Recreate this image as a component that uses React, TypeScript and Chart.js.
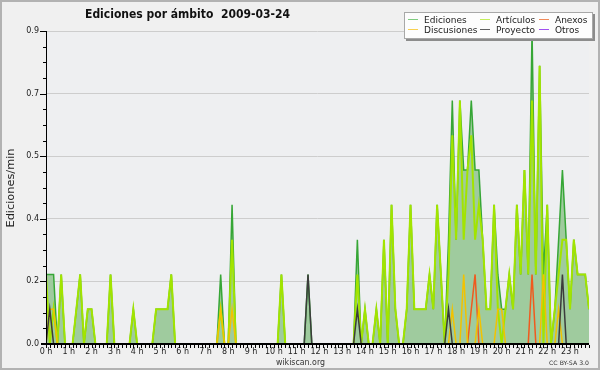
import React, { useEffect, useRef } from 'react';
import { Chart, registerables } from 'chart.js';

Chart.register(...registerables);

// ---------- data ----------
const TITLE = 'Ediciones por ámbito  2009-03-24';
const Y_TITLE = 'Ediciones/min';
const SITE = 'wikiscan.org';
const LICENSE = 'CC BY-SA 3.0';

const HOUR_LABELS = [
  '0 h', '1 h', '2 h', '3 h', '4 h', '5 h', '6 h', '7 h', '8 h', '9 h', '10 h', '11 h',
  '12 h', '13 h', '14 h', '15 h', '16 h', '17 h', '18 h', '19 h', '20 h', '21 h', '22 h', '23 h',
];

// one value per 10-minute bin (edits per minute)
const EDICIONES = [
  0.2, 0.2, 0.2, 0, 0.2, 0, 0, 0, 0.1, 0.2, 0, 0.1,
  0.1, 0, 0, 0, 0, 0.2, 0, 0, 0, 0, 0, 0.1,
  0, 0, 0, 0, 0, 0.1, 0.1, 0.1, 0.1, 0.2, 0, 0,
  0, 0, 0, 0, 0, 0, 0, 0, 0, 0, 0.2, 0,
  0, 0.4, 0, 0, 0, 0, 0, 0, 0, 0, 0, 0,
  0, 0, 0.2, 0, 0, 0, 0, 0, 0, 0.2, 0, 0,
  0, 0, 0, 0, 0, 0, 0, 0, 0, 0, 0.3, 0,
  0.1, 0, 0, 0.1, 0, 0.3, 0, 0.4, 0.1, 0, 0, 0.1,
  0.4, 0.1, 0.1, 0.1, 0.1, 0.2, 0.1, 0.4, 0.2, 0, 0.3, 0.7,
  0.3, 0.7, 0.5, 0.5, 0.7, 0.5, 0.5, 0.3, 0.1, 0.1, 0.4, 0.2,
  0.1, 0.1, 0.2, 0.1, 0.4, 0.2, 0.5, 0.2, 0.9, 0.2, 0.8, 0.2,
  0.4, 0, 0.1, 0.3, 0.5, 0.3, 0.1, 0.3, 0.2, 0.2, 0.2, 0.1,
];

const ARTICULOS = [
  0.2, 0, 0.1, 0, 0.2, 0, 0, 0, 0.1, 0.2, 0, 0.1,
  0.1, 0, 0, 0, 0, 0.2, 0, 0, 0, 0, 0, 0.1,
  0, 0, 0, 0, 0, 0.1, 0.1, 0.1, 0.1, 0.2, 0, 0,
  0, 0, 0, 0, 0, 0, 0, 0, 0, 0, 0.1, 0,
  0, 0.3, 0, 0, 0, 0, 0, 0, 0, 0, 0, 0,
  0, 0, 0.2, 0, 0, 0, 0, 0, 0, 0, 0, 0,
  0, 0, 0, 0, 0, 0, 0, 0, 0, 0, 0.2, 0,
  0.1, 0, 0, 0.1, 0, 0.3, 0, 0.4, 0.1, 0, 0, 0.1,
  0.4, 0.1, 0.1, 0.1, 0.1, 0.2, 0.1, 0.4, 0.2, 0, 0.2, 0.6,
  0.3, 0.7, 0.3, 0.5, 0.6, 0.3, 0.4, 0.3, 0.1, 0.1, 0.4, 0.1,
  0, 0.1, 0.2, 0.1, 0.4, 0.2, 0.5, 0.2, 0.7, 0.2, 0.8, 0,
  0.4, 0, 0.1, 0.2, 0.3, 0.3, 0.1, 0.3, 0.2, 0.2, 0.2, 0.1,
];

const ANEXOS = [
  0, 0, 0, 0, 0, 0, 0, 0, 0, 0, 0, 0,
  0, 0, 0, 0, 0, 0, 0, 0, 0, 0, 0, 0,
  0, 0, 0, 0, 0, 0, 0, 0, 0, 0, 0, 0,
  0, 0, 0, 0, 0, 0, 0, 0, 0, 0, 0, 0,
  0, 0, 0, 0, 0, 0, 0, 0, 0, 0, 0, 0,
  0, 0, 0, 0, 0, 0, 0, 0, 0, 0, 0, 0,
  0, 0, 0, 0, 0, 0, 0, 0, 0, 0, 0, 0,
  0, 0, 0, 0, 0, 0, 0, 0, 0, 0, 0, 0,
  0, 0, 0, 0, 0, 0, 0, 0, 0, 0, 0, 0,
  0, 0, 0, 0, 0.1, 0.2, 0, 0, 0, 0, 0, 0,
  0, 0, 0, 0, 0, 0, 0, 0, 0.2, 0, 0, 0,
  0, 0, 0, 0, 0, 0, 0, 0, 0, 0, 0, 0,
];

const DISCUSIONES = [
  0, 0.1, 0.1, 0, 0, 0, 0, 0, 0, 0, 0, 0,
  0, 0, 0, 0, 0, 0, 0, 0, 0, 0, 0, 0,
  0, 0, 0, 0, 0, 0, 0, 0, 0, 0, 0, 0,
  0, 0, 0, 0, 0, 0, 0, 0, 0, 0, 0.1, 0,
  0, 0.1, 0, 0, 0, 0, 0, 0, 0, 0, 0, 0,
  0, 0, 0, 0, 0, 0, 0, 0, 0, 0, 0, 0,
  0, 0, 0, 0, 0, 0, 0, 0, 0, 0, 0, 0,
  0, 0, 0, 0, 0, 0, 0, 0, 0, 0, 0, 0,
  0, 0, 0, 0, 0, 0, 0, 0, 0, 0, 0, 0.1,
  0, 0, 0.2, 0, 0, 0, 0.1, 0, 0, 0, 0, 0.1,
  0.1, 0, 0, 0, 0, 0, 0, 0, 0, 0, 0, 0.2,
  0, 0, 0, 0.1, 0, 0, 0, 0, 0, 0, 0, 0,
];

const PROYECTO = [
  0, 0.1, 0, 0, 0, 0, 0, 0, 0, 0, 0, 0,
  0, 0, 0, 0, 0, 0, 0, 0, 0, 0, 0, 0,
  0, 0, 0, 0, 0, 0, 0, 0, 0, 0, 0, 0,
  0, 0, 0, 0, 0, 0, 0, 0, 0, 0, 0, 0,
  0, 0, 0, 0, 0, 0, 0, 0, 0, 0, 0, 0,
  0, 0, 0, 0, 0, 0, 0, 0, 0, 0.2, 0, 0,
  0, 0, 0, 0, 0, 0, 0, 0, 0, 0, 0.1, 0,
  0, 0, 0, 0, 0, 0, 0, 0, 0, 0, 0, 0,
  0, 0, 0, 0, 0, 0, 0, 0, 0, 0, 0.1, 0,
  0, 0, 0, 0, 0, 0, 0, 0, 0, 0, 0, 0,
  0, 0, 0, 0, 0, 0, 0, 0, 0, 0, 0, 0,
  0, 0, 0, 0, 0.2, 0, 0, 0, 0, 0, 0, 0,
];

const OTROS = [
  0, 0, 0, 0, 0, 0, 0, 0, 0, 0, 0, 0,
  0, 0, 0, 0, 0, 0, 0, 0, 0, 0, 0, 0,
  0, 0, 0, 0, 0, 0, 0, 0, 0, 0, 0, 0,
  0, 0, 0, 0, 0, 0, 0, 0, 0, 0, 0, 0,
  0, 0, 0, 0, 0, 0, 0, 0, 0, 0, 0, 0,
  0, 0, 0, 0, 0, 0, 0, 0, 0, 0, 0, 0,
  0, 0, 0, 0, 0, 0, 0, 0, 0, 0, 0, 0,
  0, 0, 0, 0, 0, 0, 0, 0, 0, 0, 0, 0,
  0, 0, 0, 0, 0, 0, 0, 0, 0, 0, 0, 0,
  0, 0, 0, 0, 0, 0, 0, 0, 0, 0, 0, 0,
  0, 0, 0, 0, 0, 0, 0, 0, 0, 0, 0, 0,
  0, 0, 0, 0, 0, 0, 0, 0, 0, 0, 0, 0,
];

const SERIES_NAMES = ['Ediciones', 'Artículos', 'Anexos', 'Discusiones', 'Proyecto', 'Otros'];
const SERIES_VALUES = [EDICIONES, ARTICULOS, ANEXOS, DISCUSIONES, PROYECTO, OTROS];
const LINE_COLORS = ['#36a636', '#a2e400', '#f05a1e', '#f2c200', '#3c3c3c', '#9933ff'];
const LINE_WIDTHS = [1.5, 2, 1.5, 1.5, 1.5, 1.5];
const LEGEND_COLORS = ['#80cc80', '#c4ee5c', '#f08a5a', '#f8d050', '#606060', '#a050f0'];
const AREA_COLOR = '#9fcb9e';

const BIN_MINUTES = 10;
const Y_MAX = 0.9;
const Y_STEP = 0.045; // minor tick step; every 4th tick is labelled
const FONT = '"DejaVu Sans", sans-serif';

function drawFitText(ctx: CanvasRenderingContext2D, text: string, x: number, y: number, font: string,
  color: string, width: number | null, align: 'left' | 'center' | 'right') {
  ctx.save();
  ctx.font = font;
  ctx.fillStyle = color;
  ctx.textBaseline = 'alphabetic';
  const w = ctx.measureText(text).width;
  const sx = width ? width / w : 1;
  const realW = w * sx;
  let left = x;
  if (align === 'center') left = x - realW / 2;
  if (align === 'right') left = x - realW;
  ctx.translate(left, y);
  ctx.scale(sx, 1);
  ctx.textAlign = 'left';
  ctx.fillText(text, 0, 0);
  ctx.restore();
}

const framePlugin = {
  id: 'wikiscanFrame',
  beforeDraw(chart: any) {
    const { ctx, chartArea: a } = chart;
    ctx.save();
    ctx.fillStyle = '#f0f0f0';
    ctx.fillRect(0, 0, chart.width, chart.height);
    ctx.fillStyle = '#eeeff1';
    ctx.fillRect(a.left, a.top, a.right - a.left, a.bottom - a.top);
    ctx.restore();
  },
  afterDraw(chart: any) {
    const { ctx, chartArea: a } = chart;
    const xs = chart.scales.x;
    const ys = chart.scales.y;
    const base = Math.round(a.bottom);
    ctx.save();
    ctx.fillStyle = '#000';
    // axes
    ctx.fillRect(Math.round(a.left), Math.round(a.top), 1, base - Math.round(a.top));
    ctx.fillRect(Math.round(a.left) - 5, base - 1, Math.round(a.right - a.left) + 5, 2);
    // y ticks
    const nY = Math.round(Y_MAX / Y_STEP);
    for (let k = 1; k <= nY; k++) {
      const py = Math.round(ys.getPixelForValue(k * Y_STEP));
      const len = k % 4 === 0 ? 6 : 3;
      ctx.fillRect(Math.round(a.left) - len, py, len, 1);
    }
    // x ticks
    for (let i = 0; i < EDICIONES.length; i++) {
      const px = Math.round(xs.getPixelForValue(i * BIN_MINUTES));
      ctx.fillRect(px, base + 1, 1, 3);
    }
    ctx.restore();

    // title
    drawFitText(ctx, TITLE, 85, 18, 'bold 12px ' + FONT, '#111', 205, 'left');

    // y title (rotated)
    ctx.save();
    ctx.translate(14, 188);
    ctx.rotate(-Math.PI / 2);
    drawFitText(ctx, Y_TITLE, 0, 0, '11px ' + FONT, '#222', 79, 'center');
    ctx.restore();

    // legend
    ctx.save();
    ctx.fillStyle = '#8c8c8c';
    ctx.fillRect(406, 14, 189, 27);
    ctx.fillStyle = '#fdfdfd';
    ctx.fillRect(404, 12, 189, 27);
    ctx.strokeStyle = '#a8a8a8';
    ctx.lineWidth = 1;
    ctx.strokeRect(404.5, 12.5, 188, 26);
    const colX = [408, 480, 539];
    const textX = [424, 496, 555];
    const rowY = [19, 29];
    SERIES_NAMES.forEach((name, idx) => {
      const c = idx % 3;
      const r = Math.floor(idx / 3);
      ctx.fillStyle = LEGEND_COLORS[idx];
      ctx.fillRect(colX[c], rowY[r], 10, 1);
      drawFitText(ctx, name, textX[c], rowY[r] + 3.5, '9px ' + FONT, '#222', null, 'left');
    });
    ctx.restore();

    // footer
    drawFitText(ctx, SITE, 300.5, 365, '8px ' + FONT, '#333', 49, 'center');
    drawFitText(ctx, LICENSE, 589, 365, '6px ' + FONT, '#333', 40, 'right');

    // outer frame
    ctx.save();
    ctx.strokeStyle = '#b2b2b2';
    ctx.lineWidth = 2;
    ctx.strokeRect(1, 1, chart.width - 2, chart.height - 2);
    ctx.restore();
  },
};

export default function App() {
  const ref = useRef<HTMLCanvasElement | null>(null);

  useEffect(() => {
    document.body.style.margin = '0';
    const canvas = ref.current;
    if (!canvas) return;

    const datasets = SERIES_NAMES.map((name, idx) => ({
      label: name,
      data: SERIES_VALUES[idx].map((v, i) => ({ x: i * BIN_MINUTES, y: v })),
      borderColor: LINE_COLORS[idx],
      backgroundColor: idx === 0 ? AREA_COLOR : LINE_COLORS[idx],
      borderWidth: LINE_WIDTHS[idx],
      fill: idx === 0 ? 'origin' : false,
      pointRadius: 0,
      tension: 0,
      order: SERIES_NAMES.length - idx,
    }));

    const chart = new Chart(canvas, {
      type: 'line',
      data: { datasets },
      plugins: [framePlugin],
      options: {
        animation: false,
        responsive: false,
        events: [],
        layout: { padding: { top: 31, right: 11, left: 0, bottom: 0 } },
        plugins: {
          legend: { display: false },
          title: { display: false },
          tooltip: { enabled: false },
        },
        scales: {
          x: {
            type: 'linear',
            min: 0,
            max: (EDICIONES.length - 1) * BIN_MINUTES,
            afterFit: (s: any) => { s.height = 26; },
            afterBuildTicks: (s: any) => {
              s.ticks = HOUR_LABELS.map((_, h) => ({ value: h * 60 }));
            },
            grid: { display: false, drawTicks: false },
            border: { display: false },
            ticks: {
              autoSkip: false,
              maxRotation: 0,
              padding: 3,
              color: '#222',
              font: { family: FONT, size: 8 },
              callback: (v: any) => HOUR_LABELS[Math.round(Number(v) / 60)] ?? '',
            },
          },
          y: {
            min: 0,
            max: Y_MAX,
            afterFit: (s: any) => { s.width = 46; },
            afterBuildTicks: (s: any) => {
              const n = Math.round(Y_MAX / Y_STEP);
              s.ticks = Array.from({ length: n + 1 }, (_, k) => ({ value: k * Y_STEP }));
            },
            grid: {
              drawTicks: false,
              color: (c: any) => (c.index % 4 === 0 ? '#cdcdcd' : 'rgba(0,0,0,0)'),
              lineWidth: 1,
            },
            border: { display: false },
            ticks: {
              autoSkip: false,
              padding: 7,
              color: '#222',
              font: { family: FONT, size: 8 },
              callback: (v: any) => {
                const k = Math.round(Number(v) / Y_STEP);
                return k % 4 === 0 ? Number(v).toFixed(1) : '';
              },
            },
          },
        },
      },
    });

    return () => chart.destroy();
  }, []);

  return (
    <div style={{ width: 600, height: 370 }}>
      <canvas ref={ref} width={600} height={370} />
    </div>
  );
}
